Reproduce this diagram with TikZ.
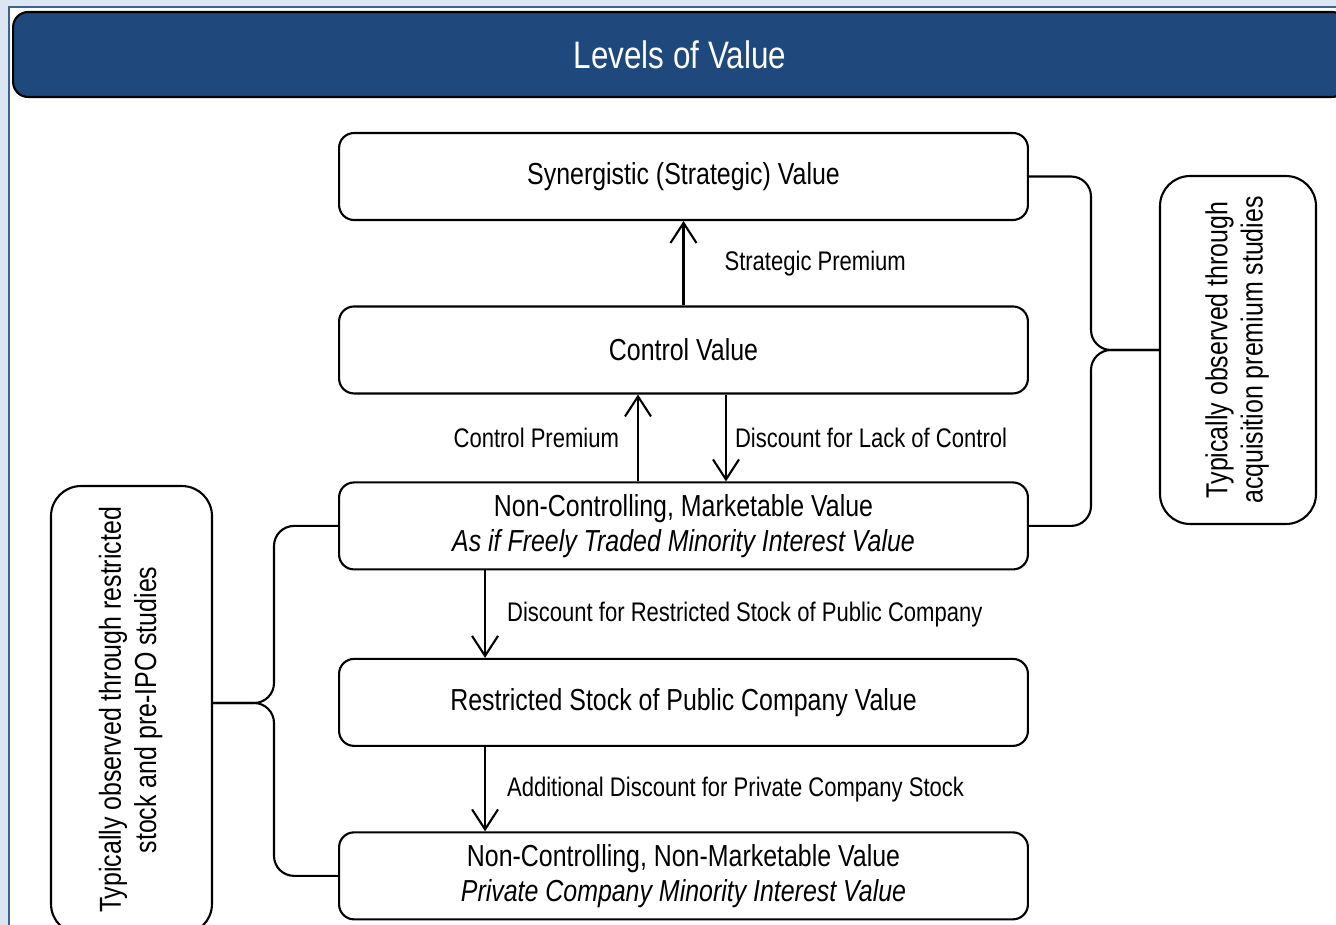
\documentclass[tikz,border=0pt]{standalone}
\usepackage{fontspec}
\setmainfont{Liberation Sans}[FakeStretch=0.82]
\usepackage{graphicx}
\usetikzlibrary{positioning}
\usetikzlibrary{calc}
\usetikzlibrary{arrows.meta}
\definecolor{hdrblue}{HTML}{1F497D}
\definecolor{framefill}{HTML}{DCE6F2}
\definecolor{frameline}{HTML}{3F6295}
\tikzset{>={Straight Barb[length=4mm,width=5.2mm]}}
\tikzset{lvl/.style={draw, rounded corners=3mm, line width=1.2pt, minimum width=13.78cm, minimum height=1.74cm, align=center, font=\fontsize{17.3}{20}\selectfont}}
\tikzset{note/.style={draw, rounded corners=6mm, line width=1.2pt, font=\fontsize{17.3}{20}\selectfont}}
\tikzset{ed/.style={inner sep=0pt, font=\fontsize{15.3}{18}\selectfont}}
\tikzset{brace/.style={line width=1.2pt, rounded corners=4mm}}

\begin{document}
\begin{tikzpicture}[x=0.02cm, y=-0.02cm, line width=1.2pt]
\useasboundingbox (0,0) rectangle (1336,925);
% page frame
\fill[framefill] (0,0) rectangle (1336,925);
\fill[white] (9,7) rectangle (1340,930);
\draw[frameline, line width=1.2pt] (9,930) -- (9,7) -- (1340,7);

\node[draw, fill=hdrblue, text=white, rounded corners=3mm, minimum width=26.68cm, minimum height=1.7cm, font=\fontsize{21.8}{24}\selectfont] (title) at (680,54.5) {Levels of Value};

\begin{scope}[on grid]
\node[lvl] (syn) at (683.5,176.5) {Synergistic (Strategic) Value};
\node[lvl] (ctl) [below = 3.47cm of syn] {Control Value};
\node[lvl] (nm) [below = 3.52cm of ctl] {Non-Controlling, Marketable Value\\\textit{As if Freely Traded Minority Interest Value}};
\node[lvl] (rs) [below = 3.53cm of nm] {Restricted Stock of Public Company Value};
\node[lvl] (pc) [below = 3.47cm of rs] {Non-Controlling, Non-Marketable Value\\\textit{Private Company Minority Interest Value}};
\end{scope}

\draw[->] (ctl.north) -- (syn.south) node[ed, midway, right = 0.8cm] {Strategic Premium};
\draw[->] ([xshift=-0.91cm]nm.north) -- ([xshift=-0.91cm]ctl.south) node[ed, midway, left = 0.36cm] {Control Premium};
\draw[->] ([xshift=0.85cm]ctl.south) -- ([xshift=0.85cm]nm.north) node[ed, midway, right = 0.16cm] {Discount for Lack of Control};
\draw[->] ([xshift=-3.97cm]nm.south) -- ([xshift=-3.97cm]rs.north) node[ed, midway, right = 0.42cm] {Discount for Restricted Stock of Public Company};
\draw[->] ([xshift=-3.97cm]rs.south) -- ([xshift=-3.97cm]pc.north) node[ed, midway, right = 0.42cm] {Additional Discount for Private Company Stock};

% side notes
\node[note, minimum width=3.12cm, minimum height=6.96cm] (acq) at (1238,350) {\rotatebox{90}{\begin{tabular}{@{}c@{}}Typically observed through\\acquisition premium studies\end{tabular}}};
\node[note, minimum width=3.22cm, minimum height=8.96cm] (ipo) at (131.5,710) {\rotatebox{90}{\begin{tabular}{@{}c@{}}Typically observed through restricted\\stock and pre-IPO studies\end{tabular}}};

% braces
\coordinate (rb) at (1091,350);
\coordinate (lb) at (274,703);
\draw[brace] (syn.east) -| (rb) -- (acq.west);
\draw[brace] (acq.west) -- (rb) |- (nm.east);
\draw[brace] (nm.west) -| (lb) -- (lb -| ipo.east);
\draw[brace] (lb -| ipo.east) -- (lb) |- (pc.west);
\end{tikzpicture}
\end{document}
